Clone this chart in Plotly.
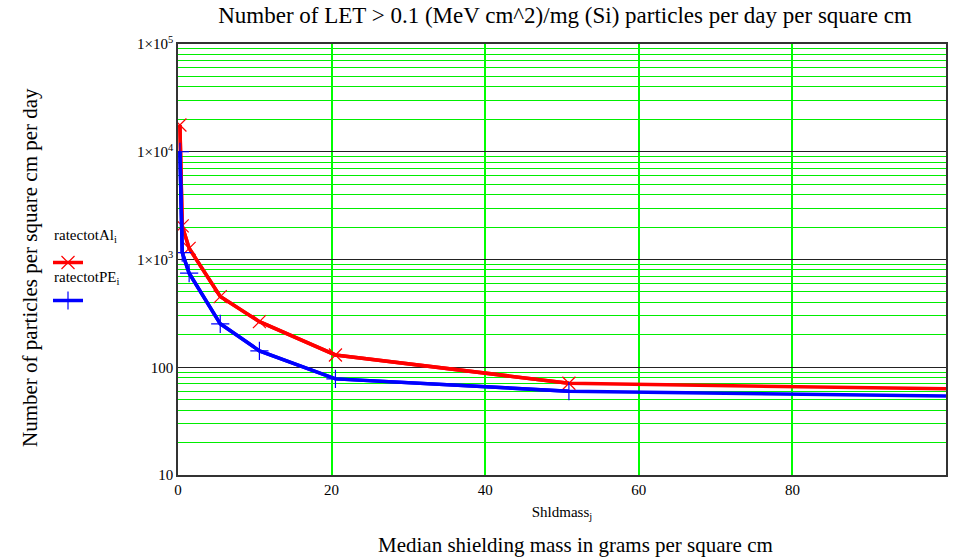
import plotly.graph_objects as go

# median shielding mass (g/cm^2) and particle rates per day per cm^2
shldmass = [0.25, 0.55, 1.45, 5.5, 10.6, 20.5, 50.9, 100]
rate_al = [17700, 2050, 1270, 453, 265, 130, 71, 63]
rate_pe = [10000, 1160, 746, 253, 142, 78, 60, 54]

y_tickvals = [10, 100, 1000, 10000, 100000]
y_ticktext = ["10", "100", "1×10<sup>3</sup>", "1×10<sup>4</sup>", "1×10<sup>5</sup>"]
x_tickvals = [0, 20, 40, 60, 80]

FONT = "Liberation Serif"
W, H = 977, 557
L, T = 178, 44
PW, PH = 768, 431
R, B = W - L - PW, H - T - PH


def px(x):
    return (x - L) / PW


def py(y):
    return (H - B - y) / PH


fig = go.Figure()
series = [("ratectotAl", rate_al, "#ff0000", "x-thin-open"),
          ("ratectotPE", rate_pe, "#0000ff", "cross-thin-open")]
for name, vals, col, sym in series:
    fig.add_trace(go.Scatter(x=shldmass, y=vals, mode="lines",
                             line=dict(color=col, width=3.5),
                             showlegend=False, hoverinfo="skip"))
    # markers only on the interior points (last point sits on the frame)
    fig.add_trace(go.Scatter(x=shldmass[:-1], y=vals[:-1], mode="lines+markers",
                             line=dict(color=col, width=3.5),
                             marker=dict(symbol=sym, size=13, color=col,
                                         line=dict(width=1.2, color=col)),
                             name=" ", legendgroup=name, showlegend=True,
                             hoverinfo="x+y"))

ann = [
    dict(text="ratectotAl<sub>i</sub>", x=px(52), y=py(236)),
    dict(text="ratectotPE<sub>i</sub>", x=px(52), y=py(278)),
]
annotations = [dict(a, xref="paper", yref="paper", xanchor="left", yanchor="middle",
                    showarrow=False, font=dict(family=FONT, size=15, color="black"))
               for a in ann]
annotations.append(dict(text="Median shielding mass in grams per square cm",
                        x=px(575), y=py(545), xref="paper", yref="paper",
                        xanchor="center", yanchor="middle", showarrow=False,
                        font=dict(family=FONT, size=21, color="black")))
annotations.append(dict(text="Number of particles per square cm per day",
                        x=px(30), y=py(268), xref="paper", yref="paper",
                        xanchor="center", yanchor="middle", showarrow=False,
                        textangle=-90,
                        font=dict(family=FONT, size=21, color="black")))

fig.update_layout(
    width=W, height=H, margin=dict(l=L, r=R, t=T, b=B),
    plot_bgcolor="white", paper_bgcolor="white",
    font=dict(family=FONT, color="black"),
    hovermode=False,
    title=dict(text="Number of LET > 0.1 (MeV cm^2)/mg (Si) particles per day per square cm",
               x=565 / W, xanchor="center", y=1 - 15 / H, yanchor="middle",
               font=dict(family=FONT, size=23, color="black")),
    showlegend=True,
    legend=dict(x=px(48), y=py(248), xanchor="left", yanchor="top",
                bgcolor="rgba(0,0,0,0)", tracegroupgap=19, itemwidth=30,
                font=dict(family=FONT, size=12)),
    annotations=annotations,
    xaxis=dict(range=[0, 100], tickvals=x_tickvals, showgrid=True,
               gridcolor="#00ff00", gridwidth=1.5, zeroline=False,
               showline=True, linecolor="#333333", linewidth=1.5, mirror=True,
               ticks="", tickfont=dict(family=FONT, size=15),
               title=dict(text="Shldmass<sub>j</sub>", standoff=10,
                          font=dict(family=FONT, size=15))),
    yaxis=dict(type="log", range=[1, 5], tickvals=y_tickvals, ticktext=y_ticktext,
               showgrid=True, gridcolor="#222222", gridwidth=1, zeroline=False,
               showline=True, linecolor="#333333", linewidth=1.5, mirror=True,
               ticks="", tickfont=dict(family=FONT, size=15),
               minor=dict(showgrid=True, gridcolor="#00ee00", gridwidth=1,
                          dtick="D1")),
)

# drop the browser's default body margin so the figure sits at the page corner
fig.write_html("out.html", config={"displayModeBar": False},
               post_script="document.body.style.margin='0';"
                           "document.body.style.overflow='hidden';")
